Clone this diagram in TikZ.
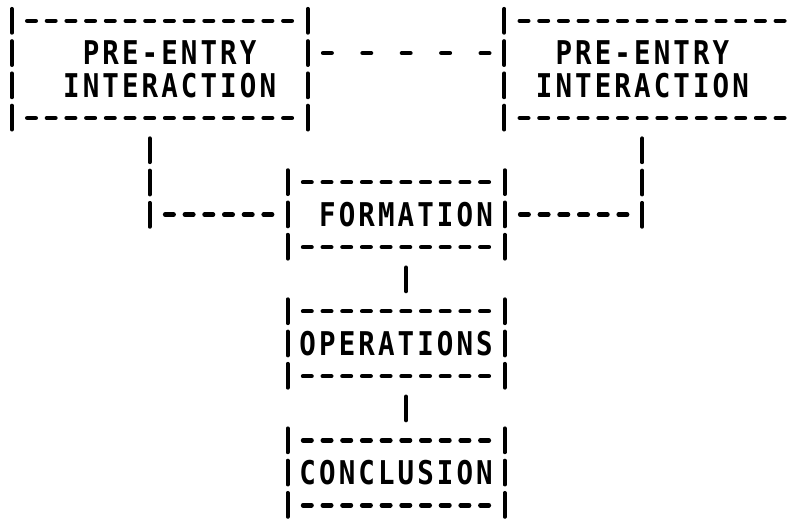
\documentclass[tikz,border=0pt]{standalone}
\usepackage{fontspec}
\newfontfamily\ascfont{DejaVu Sans Mono}[FakeStretch=0.84, LetterSpace=9.5]
\usetikzlibrary{calc,fit}
\newcommand\asciibox[1]{%
  \draw[hline] ($(#1.north west)+(0.5,0)$) -- ($(#1.north east)+(-0.5,0)$);
  \draw[hline] ($(#1.south west)+(0.5,0)$) -- ($(#1.south east)+(-0.5,0)$);
  \draw[vline] ($(#1.north west)+(0,-0.5)$) -- ($(#1.south west)+(0,0.5)$);
  \draw[vline] ($(#1.north east)+(0,-0.5)$) -- ($(#1.south east)+(0,0.5)$);
}
\tikzset{
  hline/.style={line width=4.5pt, line cap=round, dash pattern=on 8.5pt off 11.2pt, dash phase=14.1pt},
  hgap/.style={line width=4.5pt, line cap=round, dash pattern=on 8.5pt off 30.9pt, dash phase=33.8pt},
  vline/.style={line width=3.8pt, line cap=round, dash pattern=on 24pt off 8.27pt, dash phase=28.135pt},
  boxarea/.style={inner sep=0pt, draw=none},
  lbl/.style={font=\ascfont\bfseries\fontsize{32.7pt}{32.27pt}\selectfont, align=center, inner sep=0pt}
}
\begin{document}
\begin{tikzpicture}[x=19.7pt, y=-32.27pt]
\useasboundingbox[fill=white] (-12pt,-498pt) rectangle (783pt,21pt);
% box areas (grid: column, row)
\node[boxarea, fit={(0,0) (15,3)}] (L) {};
\node[boxarea, fit={(25,0) (40,3)}] (R) {};
\node[boxarea, fit={(14,5) (25,7)}] (F) {};
\node[boxarea, fit={(14,9) (25,11)}] (O) {};
\node[boxarea, fit={(14,13) (25,15)}] (C) {};
% texts
\node[lbl] (LT) at (8,1.5) {PRE-ENTRY\\INTERACTION};
\node[lbl] (RT) at (32,1.5) {PRE-ENTRY\\INTERACTION};
\node[lbl] (FT) at (20,6) {FORMATION};
\node[lbl] (OT) at (19.5,10) {OPERATIONS};
\node[lbl] (CT) at (19.5,14) {CONCLUSION};
% borders
\asciibox{L}
\asciibox{F}
\asciibox{O}
\asciibox{C}
\draw[hline] ($(R.north west)+(0.5,0)$) -- ($(R.north east)+(-0.5,0)$);
\draw[hline] ($(R.south west)+(0.5,0)$) -- ($(R.south east)+(-0.5,0)$);
\draw[vline] ($(R.north west)+(0,-0.5)$) -- ($(R.south west)+(0,0.5)$);
% connectors
\draw[hgap] ($(L.north east)+(0.5,1)$) -- ($(R.north west)+(-0.5,1)$);
\coordinate (lk) at ($(L.south west)+(7,0)$);
\coordinate (rk) at ($(R.south west)+(7,0)$);
\draw[vline] ($(lk)+(0,0.5)$) -- ($(lk |- F.west)+(0,0.5)$);
\draw[hline] ($(lk |- F.west)+(0.5,0)$) -- ($(F.west)+(-0.5,0)$);
\draw[vline] ($(rk)+(0,0.5)$) -- ($(rk |- F.east)+(0,0.5)$);
\draw[hline] ($(F.east)+(0.5,0)$) -- ($(rk |- F.east)+(-0.5,0)$);
\draw[vline] ($(F.south)+(0.5,0.5)$) -- ($(O.north)+(0.5,-0.5)$);
\draw[vline] ($(O.south)+(0.5,0.5)$) -- ($(C.north)+(0.5,-0.5)$);
\end{tikzpicture}
\end{document}
